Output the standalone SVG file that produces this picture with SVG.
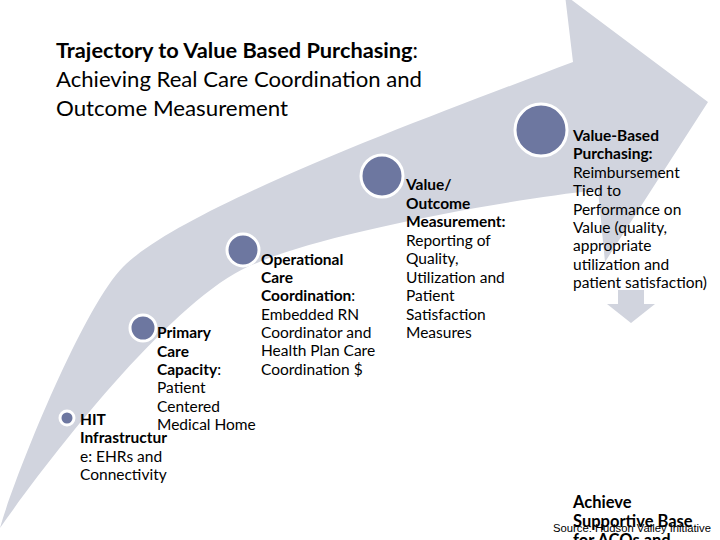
<svg xmlns="http://www.w3.org/2000/svg" width="720" height="540" viewBox="0 0 720 540">
<style>
.band{fill:#d1d4de;}
.dot{fill:#6d77a0;stroke:#ffffff;stroke-width:3;}
.title{font-family:Lato,"Open Sans","Liberation Sans",sans-serif;font-size:21px;fill:#000;}
.t{font-family:Lato,"Noto Sans","Liberation Sans",sans-serif;font-size:15.5px;fill:#000;}
.b{font-weight:bold;}
.src{font-family:"Liberation Sans",Arial,sans-serif;font-size:10px;fill:#000;}
</style>
<rect width="720" height="540" fill="#ffffff"/>
<g id="trajectory-arrow">
<path class="band" d="M0,528 C15,475 83,307 123,267 C183,207 423,119 573,62 L565,-5 L708,102 L605,262 L598,190 C488,202 317,236 257,263 C180,290 55,450 0,528 Z"/>
</g>
<g id="title">
<text class="title" x="56" y="58" textLength="362" lengthAdjust="spacingAndGlyphs"><tspan class="b">Trajectory to Value Based Purchasing</tspan>:</text>
<text class="title" x="56" y="87" textLength="366" lengthAdjust="spacingAndGlyphs">Achieving Real Care Coordination and</text>
<text class="title" x="56" y="116" textLength="232" lengthAdjust="spacingAndGlyphs">Outcome Measurement</text>
</g>
<g id="connectors">
<path class="band" d="M618,290 L644,290 L644,304 L655,304 L631,323 L607,304 L618,304 Z"/>
</g>
<g id="node-hit">
<circle class="dot" cx="67" cy="418" r="7"/>
<text class="t"><tspan class="b" x="80" y="425">HIT</tspan><tspan class="b" x="80" y="443">Infrastructur</tspan><tspan x="80" y="462">e: EHRs and</tspan><tspan x="80" y="480">Connectivity</tspan></text>
</g>
<g id="node-primary">
<circle class="dot" cx="143" cy="328" r="13"/>
<text class="t"><tspan class="b" x="157" y="338">Primary</tspan><tspan class="b" x="157" y="357">Care</tspan><tspan x="157" y="375"><tspan class="b">Capacity</tspan>:</tspan><tspan x="157" y="393">Patient</tspan><tspan x="157" y="412">Centered</tspan><tspan x="157" y="430">Medical Home</tspan></text>
</g>
<g id="node-operational">
<circle class="dot" cx="243" cy="250" r="16"/>
<text class="t"><tspan class="b" x="261" y="265">Operational</tspan><tspan class="b" x="261" y="283">Care</tspan><tspan x="261" y="301"><tspan class="b">Coordination</tspan>:</tspan><tspan x="261" y="320">Embedded RN</tspan><tspan x="261" y="338">Coordinator and</tspan><tspan x="261" y="356">Health Plan Care</tspan><tspan x="261" y="375">Coordination $</tspan></text>
</g>
<g id="node-value-outcome">
<circle class="dot" cx="382" cy="176" r="21"/>
<text class="t"><tspan class="b" x="406" y="190">Value/</tspan><tspan class="b" x="406" y="209">Outcome</tspan><tspan class="b" x="406" y="227">Measurement:</tspan><tspan x="406" y="246">Reporting of</tspan><tspan x="406" y="264">Quality,</tspan><tspan x="406" y="283">Utilization and</tspan><tspan x="406" y="301">Patient</tspan><tspan x="406" y="320">Satisfaction</tspan><tspan x="406" y="338">Measures</tspan></text>
</g>
<g id="node-value-based">
<circle class="dot" cx="541" cy="130" r="26"/>
<text class="t"><tspan class="b" x="573" y="141">Value-Based</tspan><tspan class="b" x="573" y="159">Purchasing:</tspan><tspan x="573" y="178">Reimbursement</tspan><tspan x="573" y="196">Tied to</tspan><tspan x="573" y="215">Performance on</tspan><tspan x="573" y="233">Value (quality,</tspan><tspan x="573" y="251">appropriate</tspan><tspan x="573" y="270">utilization and</tspan><tspan x="573" y="288">patient satisfaction)</tspan></text>
</g>
<g id="node-achieve">
<text class="t b" style="font-size:16.5px"><tspan x="573" y="508">Achieve</tspan><tspan x="573" y="527">Supportive Base</tspan><tspan x="573" y="546">for ACOs and</tspan></text>
</g>
<g id="source">
<text class="src" x="553" y="532" textLength="158" lengthAdjust="spacingAndGlyphs">Source: Hudson Valley Initiative</text>
</g>
</svg>
